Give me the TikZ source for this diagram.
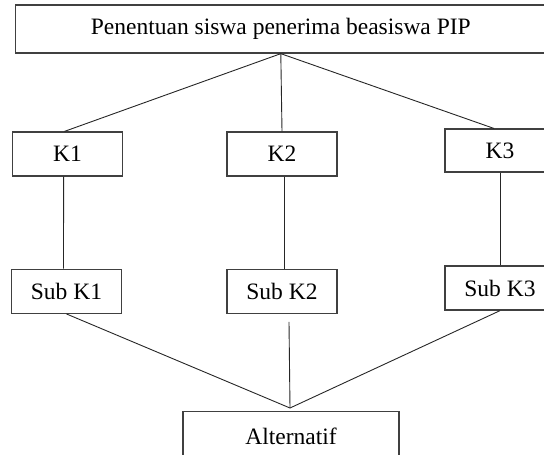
\documentclass[tikz,border=0pt]{standalone}
\usepackage{fontspec}
\setmainfont{Liberation Serif}
\usetikzlibrary{positioning}

\begin{document}
\begin{tikzpicture}[
  x=1pt, y=-1pt,
  every node/.style={font=\fontsize{23.5}{28}\selectfont},
  box/.style={draw=black!75, line width=1.3pt, inner sep=0pt,
              minimum width=110pt, minimum height=44pt, align=center},
  link/.style={draw=black!85, line width=0.9pt}
]
\clip (0,0) rectangle (544,455);

%% ---- Goal (top) ----------------------------------------------------
\node[box, minimum width=530pt, minimum height=48pt] (goal) at (280.8,29)
     {Penentuan siswa penerima beasiswa PIP};

%% ---- Criteria ------------------------------------------------------
\node[box] (k1) at (67.6,154)   {K1};
\node[box] (k2) at (282,154)    {K2};
\node[box, minimum height=43pt] (k3) at (500,150.6) {K3};

%% ---- Sub criteria --------------------------------------------------
\node[box] (subk1) at (66.5,291.3) {Sub K1};
\node[box] (subk2) at (282,291.3)  {Sub K2};
\node[box] (subk3) at (500,288)    {Sub K3};

%% ---- Alternatives (bottom) -----------------------------------------
\node[box, minimum width=216pt, minimum height=50pt] (alt) at (291,436.7)
     {Alternatif};
\coordinate (meet) at (290,408);

% Goal to criteria
\draw[link] (goal.south) -- ([xshift=-3pt]k1.north);
\draw[link] (goal.south) -- (k2.north);
\draw[link] (goal.south) -- ([xshift=-6pt]k3.north);

% Criteria to sub criteria
\draw[link] ([xshift=-4pt]k1.south) -- ([xshift=-3pt]subk1.north);
\draw[link] ([xshift=2pt]k2.south)  -- ([xshift=2pt]subk2.north);
\draw[link] (k3.south) -- (subk3.north);

% Sub criteria to alternatives
\draw[link] (subk1.south) -- (meet);
\draw[link] ([xshift=7pt,yshift=-8pt]subk2.south) -- (meet);
\draw[link] (subk3.south) -- (meet);

\end{tikzpicture}
\end{document}
